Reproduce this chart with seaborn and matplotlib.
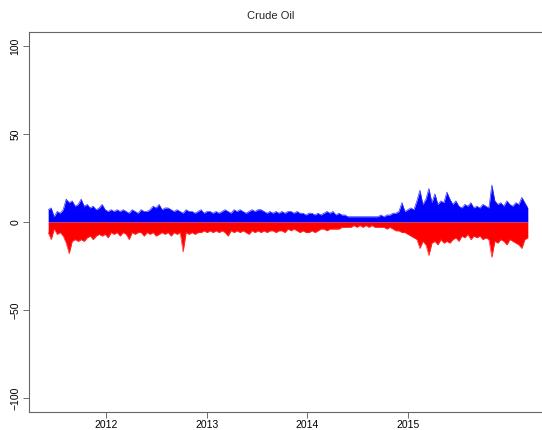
import numpy as np
import pandas as pd
import matplotlib
matplotlib.use("Agg")
import matplotlib.pyplot as plt
import matplotlib.dates as mdates
import seaborn as sns

# envelope of the daily moves (~11 days per step)
upper = [7, 8, 3, 6, 5, 7, 13, 11, 12, 9, 10, 13, 9, 10, 8, 9, 7, 8, 10, 7,
         6, 7, 6, 7, 6, 7, 6, 5, 7, 6, 5, 7, 6, 6, 7, 9, 8, 10, 7, 8,
         8, 7, 6, 7, 6, 5, 7, 6, 6, 5, 6, 7, 5, 6, 6, 5, 6, 5, 6, 7,
         6, 5, 7, 6, 7, 6, 5, 6, 7, 6, 7, 7, 6, 5, 6, 5, 6, 5, 6, 5,
         6, 6, 5, 6, 5, 5, 4, 5, 5, 4, 5, 4, 5, 6, 5, 6, 4, 5, 4, 4,
         3, 3, 3, 3, 3, 3, 3, 3, 3, 3, 3, 4, 3, 4, 4, 5, 5, 6, 11, 6,
         7, 8, 7, 12, 18, 10, 13, 19, 11, 16, 10, 12, 11, 17, 13, 10, 12, 9, 8, 10,
         9, 11, 8, 9, 8, 10, 9, 8, 21, 12, 10, 11, 9, 12, 10, 9, 11, 10, 14, 11,
         8]
lower = [-6, -10, -4, -7, -6, -8, -12, -18, -11, -10, -11, -10, -11, -9, -8, -10, -8, -7, -8, -7,
         -9, -6, -7, -6, -8, -6, -7, -10, -6, -7, -6, -6, -8, -6, -7, -6, -8, -7, -6, -7,
         -6, -8, -6, -7, -6, -17, -6, -7, -6, -7, -6, -6, -5, -6, -5, -6, -5, -6, -5, -6,
         -8, -5, -6, -5, -6, -5, -6, -7, -5, -6, -5, -6, -5, -6, -5, -5, -6, -5, -5, -6,
         -4, -5, -4, -5, -6, -5, -6, -6, -5, -6, -5, -4, -4, -5, -4, -4, -4, -4, -3, -3,
         -3, -3, -2, -3, -2, -3, -2, -3, -2, -3, -3, -3, -3, -4, -3, -4, -5, -5, -6, -6,
         -7, -8, -9, -10, -15, -11, -13, -19, -12, -11, -13, -10, -12, -11, -12, -10, -9, -11, -8, -9,
         -7, -10, -8, -9, -8, -10, -9, -10, -20, -11, -12, -10, -11, -13, -10, -11, -12, -13, -15, -10,
         -9]
dates = pd.date_range("2011-06-05", "2016-03-11", periods=len(upper))
year_ticks = ["2012-01-01", "2013-01-01", "2014-01-01", "2015-01-01"]

df = pd.DataFrame({"date": dates, "up": upper, "down": lower})

sns.set_style("white")
plt.rcParams["font.family"] = ["Liberation Sans", "DejaVu Sans"]

fig = plt.figure(figsize=(5.42, 4.30), dpi=100)
ax = fig.add_axes([29 / 542, 18 / 430, 518 / 542, 380 / 430])

ax.fill_between(df["date"], 0, df["up"], color="#0000FF", lw=0)
ax.fill_between(df["date"], 0, df["down"], color="#FF0000", lw=0)
sns.lineplot(data=df, x="date", y="up", color="#3333FF", lw=0.5, ax=ax)
sns.lineplot(data=df, x="date", y="down", color="#FF3333", lw=0.5, ax=ax)

# R-like 4% padding
t0, t1 = mdates.date2num(dates[0]), mdates.date2num(dates[-1])
pad = 0.04 * (t1 - t0)
ax.set_xlim(t0 - pad, t1 + pad)
ax.set_ylim(-108, 108)

ax.set_xticks(mdates.date2num(pd.to_datetime(year_ticks)))
ax.set_xticklabels([y[:4] for y in year_ticks])
ax.set_yticks([-100, -50, 0, 50, 100])
ax.tick_params(axis="both", direction="out", length=4, width=0.6, colors="#555555",
               labelsize=7.5, labelcolor="black", pad=2, bottom=True, left=True)
plt.setp(ax.get_yticklabels(), rotation=90, va="center")
ax.set_xlabel("")
ax.set_ylabel("")
for s in ax.spines.values():
    s.set_color("#666666")
    s.set_linewidth(0.8)
ax.spines["right"].set_visible(False)

fig.text(0.5, 1 - 16 / 430, "Crude Oil", ha="center", va="center", fontsize=8)

fig.savefig("out.png", dpi=100)
